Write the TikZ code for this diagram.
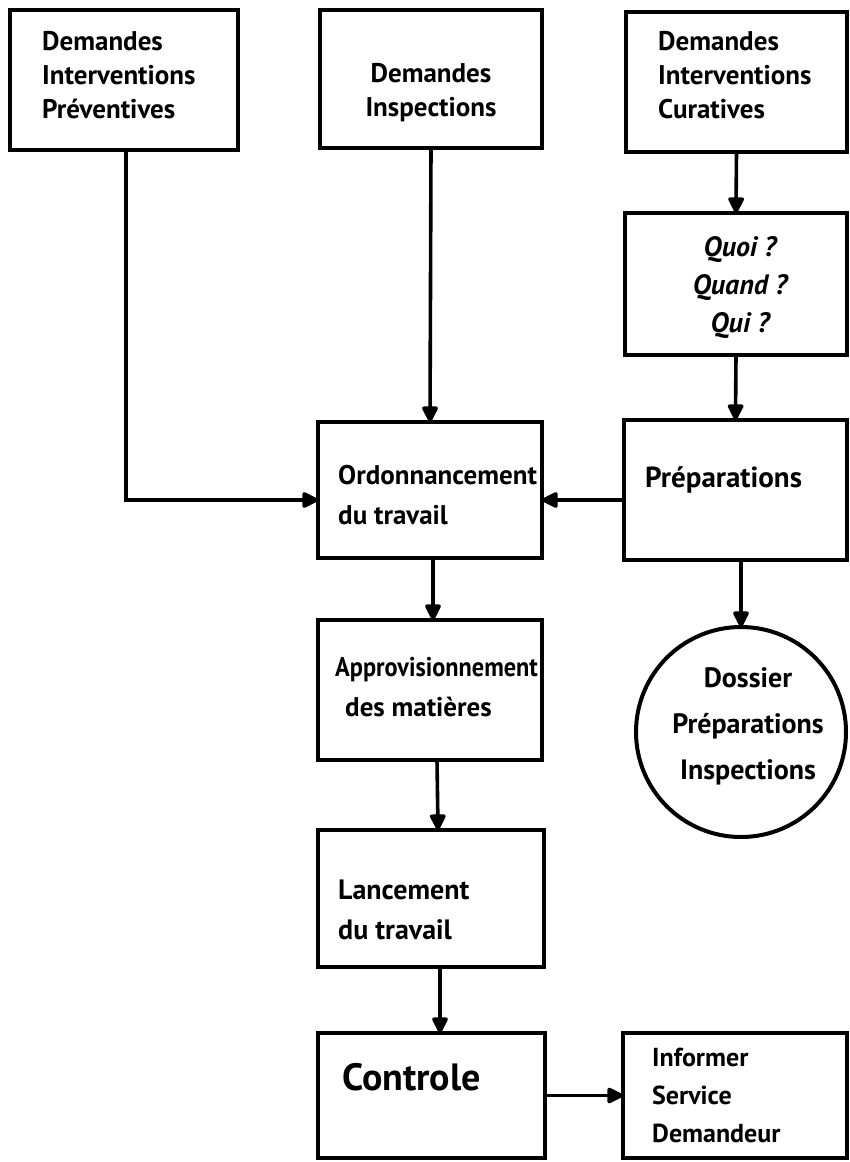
\documentclass[tikz,border=0pt]{standalone}
\usepackage{fontspec}
\usepackage{graphicx}
\setmainfont{PT Sans}
\usetikzlibrary{arrows.meta}
\begin{document}
\begin{tikzpicture}[x=1pt,y=-1pt,
  box/.style={draw, line width=4pt, rectangle, inner sep=0pt, outer sep=0pt},
  disc/.style={draw, line width=4pt, circle, inner sep=0pt, outer sep=0pt},
  link/.style={line width=3.6pt, -{Triangle[length=18pt,width=17pt,round]}},
  txt/.style={inner sep=0pt, font=\fontsize{27}{34}\bfseries},
]
\path[use as bounding box, fill=white] (0,0) rectangle (850,1162);

% boxes
\node[box, minimum width=228pt, minimum height=140pt] (prev) at (124,80) {};
\node[box, minimum width=222pt, minimum height=138pt] (insp) at (431,79) {};
\node[box, minimum width=221pt, minimum height=140pt] (cura) at (736.5,82) {};
\node[box, minimum width=222pt, minimum height=142pt] (quoi) at (736,284) {};
\node[box, minimum width=223pt, minimum height=140pt] (prep) at (735.5,490) {};
\node[box, minimum width=224pt, minimum height=136pt] (ordo) at (430,490) {};
\node[box, minimum width=224pt, minimum height=140pt] (appro) at (430,690) {};
\node[disc, minimum size=210pt] (dossier) at (741,732) {};
\node[box, minimum width=226pt, minimum height=137pt] (lanc) at (431,898.5) {};
\node[box, minimum width=227pt, minimum height=125pt] (ctrl) at (431.5,1095.5) {};
\node[box, minimum width=224pt, minimum height=125pt] (info) at (735,1095.5) {};

% texts
\node[txt, anchor=west, align=left] (tprev) at (42,75) {Demandes\\Interventions\\Préventives};
\node[txt, align=center] (tinsp) at (431,93) {Demandes\\Inspections};
\node[txt, anchor=west, align=left] (tcura) at (658,75) {Demandes\\Interventions\\Curatives};
\node[txt, align=center, font=\fontsize{28}{38}\bfseries\itshape] (tquoi) at (740,288) {Quoi ?\\Quand ?\\Qui ?};
\node[txt, anchor=west, align=left, font=\fontsize{27}{40}\bfseries] (tordo) at (338,495) {Ordonnancement\\du travail};
\node[txt, anchor=west, font=\fontsize{29}{34}\bfseries] (tprep) at (645,480) {Préparations};
\node[txt, anchor=west, align=left, font=\fontsize{27}{40}\bfseries] (tappro) at (335,687) {\scalebox{0.9}[1]{Approvisionnement}\\\hspace{10pt}des matières};
\node[txt, align=center, font=\fontsize{28}{46}\bfseries] (tdoss) at (748,726) {Dossier\\Préparations\\Inspections};
\node[txt, anchor=west, align=left, font=\fontsize{28}{40}\bfseries] (tlanc) at (338,910) {Lancement\\du travail};
\node[txt, anchor=west, font=\fontsize{38}{40}\bfseries] (tctrl) at (342,1077) {Controle};
\node[txt, anchor=west, align=left, font=\fontsize{26}{38}\bfseries] (tinfo) at (652,1095) {Informer\\Service\\Demandeur};

% connectors
\draw[link] ([xshift=2pt]prev.south) |- ([yshift=-10pt]ordo.west);
\draw[link] (insp.south) -- (ordo.north);
\draw[link] (cura.south) -- (quoi.north);
\draw[link] (quoi.south) -- (prep.north);
\draw[link] ([yshift=-10pt]prep.west) -- ([yshift=-10pt]ordo.east);
\draw[link] (prep.south -| dossier.north) -- (dossier.north);
\draw[link] ([xshift=3pt]ordo.south) -- ([xshift=3pt]appro.north);
\draw[link] ([xshift=7pt]appro.south) -- ([xshift=7pt]lanc.north);
\draw[link] ([xshift=9pt]lanc.south) -- ([xshift=9pt]lanc.south |- ctrl.north);
\draw[link] (ctrl.east) -- (info.west);
\end{tikzpicture}
\end{document}
